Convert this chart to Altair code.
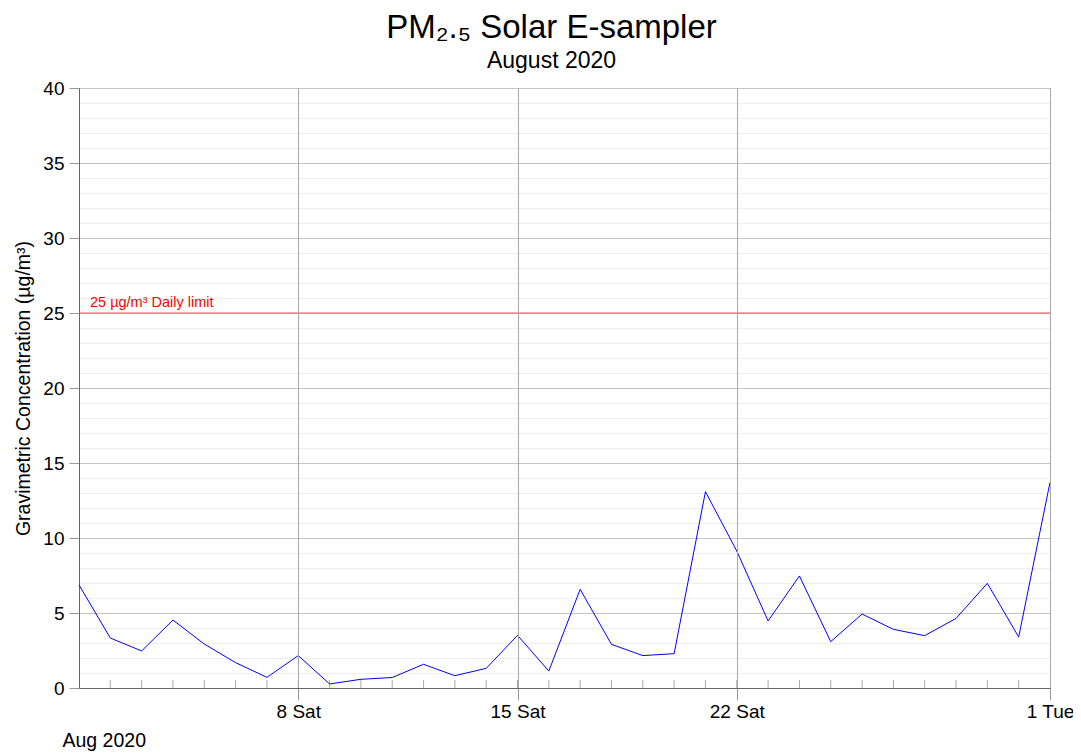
import altair as alt
import pandas as pd

dates = pd.date_range("2020-08-01", "2020-09-01", freq="D").strftime("%Y-%m-%dT00:00:00").tolist()
values = [6.87, 3.33, 2.47, 4.53, 2.93, 1.69, 0.71, 2.16, 0.27, 0.58, 0.70,
          1.58, 0.82, 1.31, 3.51, 1.13, 6.58, 2.91, 2.16, 2.29, 13.09, 9.13,
          4.47, 7.47, 3.09, 4.93, 3.91, 3.49, 4.64, 6.98, 3.40, 13.71]
limit_value = 25
limit_label = "25 µg/m³ Daily limit"
y_ticks = list(range(0, 41))

df = pd.DataFrame({"date": dates, "pm": values})
minor_df = pd.DataFrame({"date": dates[1:-1]})
limit_df = pd.DataFrame({"y": [limit_value], "label": [limit_label]})

W, H = 971, 600

x_scale = alt.Scale(domain=[dates[0], dates[-1]])
y_scale = alt.Scale(domain=[0, 40], nice=False)

x_axis = alt.Axis(
    values=[alt.DateTime(year=2020, month=8, date=8), alt.DateTime(year=2020, month=8, date=15),
            alt.DateTime(year=2020, month=8, date=22), alt.DateTime(year=2020, month=9, date=1)],
    format="%-d %a", grid=True, gridColor="#a8a8a8", gridWidth=1, zindex=1,
    tickSize=12, tickColor="#999999", domainColor="#666666",
    labelFontSize=19, labelPadding=2, labelColor="#000000", labelFlush=False, labelOverlap=False,
    title="Aug 2020", titleAnchor="start", titleAlign="left", titleX=-17, titleY=58,
    titleBaseline="alphabetic", titleFontSize=19.5, titleFontWeight="normal", titleColor="#000000",
)
y_axis = alt.Axis(
    values=y_ticks, tickCount=100, format="d",
    labelExpr="datum.value % 5 === 0 ? datum.label : ''",
    labelOverlap=False,
    gridColor={"condition": {"test": "datum.value % 5 === 0", "value": "#c4c4c4"}, "value": "#eeeeee"},
    tickColor={"condition": {"test": "datum.value % 5 === 0", "value": "#999999"}, "value": "transparent"},
    tickSize=10, domainColor="#666666",
    labelFontSize=19, labelPadding=5, labelColor="#000000",
    title="Gravimetric Concentration (µg/m³)", titleFontSize=19.5, titleFontWeight="normal",
    titleColor="#000000", titlePadding=9,
)

line = alt.Chart(df).mark_line(color="#0000ff", strokeWidth=1).encode(
    x=alt.X("date:T", scale=x_scale, axis=x_axis),
    y=alt.Y("pm:Q", scale=y_scale, axis=y_axis),
)

minor = alt.Chart(minor_df).mark_rule(color="#aaaaaa", strokeWidth=1).encode(
    x=alt.X("date:T", scale=x_scale),
    y=alt.value(H),
    y2=alt.value(H - 8),
)

rule = alt.Chart(limit_df).mark_rule(color="#ee5555", strokeWidth=1.2).encode(
    y=alt.Y("y:Q", scale=y_scale),
)
text = alt.Chart(limit_df).mark_text(color="#ff0000", align="left", baseline="bottom",
                                     fontSize=14.5, dy=-3).encode(
    x=alt.value(11),
    y=alt.Y("y:Q", scale=y_scale),
    text="label:N",
)

chart = alt.layer(minor, rule, line, text).properties(
    width=W, height=H,
    autosize="none",
    padding={"left": 71, "top": 80, "right": 23, "bottom": 67},
    title=alt.TitleParams(
        text="PM₂.₅ Solar E-sampler", subtitle="August 2020",
        fontSize=33, fontWeight="normal", subtitleFontSize=23, color="#000000",
        subtitleColor="#000000", anchor="middle", dx=-13, offset=6, subtitlePadding=5,
    ),
).configure(font="Liberation Sans").configure_view(stroke="#999999", strokeWidth=1)

chart.save("out.html", embed_options={"renderer": "svg", "actions": False})
